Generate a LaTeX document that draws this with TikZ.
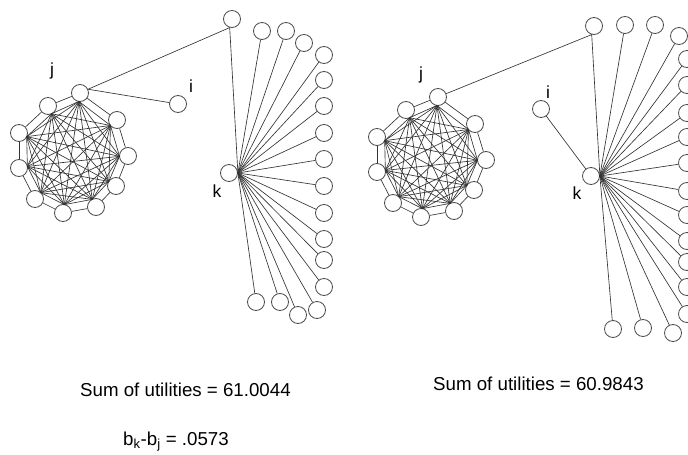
\documentclass[tikz,border=0pt]{standalone}
\usepackage{fontspec}
\setmainfont{Liberation Sans}
\usetikzlibrary{calc}
\tikzset{
vertex/.style={circle,draw=black!70,fill=white,minimum size=17pt,inner sep=0pt,line width=0.8pt},
link/.style={draw=black!80,line width=0.65pt},
lbl/.style={font=\fontsize{17.5}{20}\selectfont,inner sep=0pt},
caption/.style={font=\fontsize{18.7}{22}\selectfont,inner sep=0pt,anchor=base west},
}
% the dense cluster: ring of 10 nodes plus a clique on their inner sides
\newcommand\drawcluster[1]{%
  \coordinate (#1ctr) at (72,158);
  \foreach \p [count=\n] in {(80,93),(117,120),(128,156),(116,186),(96,207),(63,213),(35,199),(19,168),(19,133),(48,106)}
    \node[vertex] (#1\n) at \p {};
  \foreach \n [remember=\n as \m (initially 10)] in {1,...,10}
    \draw[link] (#1\m) -- (#1\n);
  \foreach \n in {1,...,10}
    \coordinate (#1p\n) at ($(#1\n)!8.5pt!(#1ctr)$);
  \foreach \n in {1,...,9}{
    \pgfmathtruncatemacro\nxt{\n+1}
    \foreach \m in {\nxt,...,10}
      \draw[link] (#1p\n) -- (#1p\m);
  }
}
\begin{document}
\begin{tikzpicture}[x=1pt,y=-1pt]
\useasboundingbox (0,0) rectangle (688,455);

% left network
\drawcluster{L}
\node[vertex] (Lhub) at (232,19) {};
\node[vertex] (Li) at (178,104) {};
\node[vertex] (Lk) at (229,173) {};
\foreach \p [count=\n] in {(262,31),(286,31),(304,43),(324,55),(324,80),(324,106),(324,133),(324,159),(324,186),(324,213),(324,239),(324,260),(324,287),(317,310),(298,315),(280,302),(256,302)}
  \node[vertex] (Lf\n) at \p {};
\draw[link] (Lhub.255) -- (L1.25) -- (Li);
\draw[link] (Lhub.255) -- (Lk.east);
\foreach \n in {1,...,17}
  \draw[link] (Lk.east) -- (Lf\n);
\node[lbl] (Lj-lbl) at (52,71) {j};
\node[lbl] (Li-lbl) at (191,86) {i};
\node[lbl] (Lk-lbl) at (217,191) {k};

% right network
\begin{scope}[shift={(358,4)}]
\drawcluster{R}
\end{scope}
\node[vertex] (Rhub) at (594,26) {};
\node[vertex] (Ri) at (541,109) {};
\node[vertex] (Rk) at (591,176) {};
\foreach \p [count=\n] in {(625,25),(655,25),(679,36),(687,59),(687,85),(687,113),(687,137),(687,163),(687,191),(687,215),(687,241),(687,262),(687,287),(687,314),(673,333),(643,328),(613,329)}
  \node[vertex] (Rf\n) at \p {};
\draw[link] (R1) -- (Rhub.255) -- (Rk.east);
\draw[link] (Ri) -- (Rk);
\foreach \n in {1,...,17}
  \draw[link] (Rk.east) -- (Rf\n);
\node[lbl] (Rj-lbl) at (421,75) {j};
\node[lbl] (Ri-lbl) at (548,92) {i};
\node[lbl] (Rk-lbl) at (577,193) {k};

% results
\node[caption] (sumL) at (80,396) {Sum of utilities = 61.0044};
\node[caption] (sumR) at (433,390) {Sum of utilities = 60.9843};
\node[caption] (diff) at (123,445) {b\textsubscript{k}-b\textsubscript{j} = .0573};
\end{tikzpicture}
\end{document}
